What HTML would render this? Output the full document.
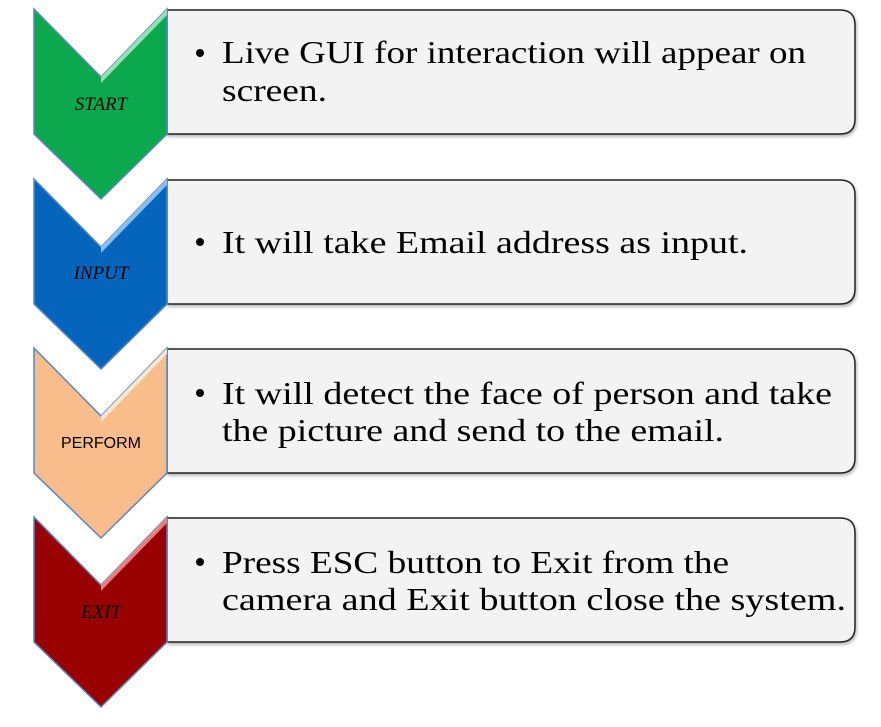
<!DOCTYPE html>
<html><head><style>
html,body{margin:0;padding:0;background:#fff;width:881px;height:727px;overflow:hidden}
</style></head><body>
<svg width="881" height="727" viewBox="0 0 881 727" xmlns="http://www.w3.org/2000/svg">
<defs>
<filter id="sh" x="-5%" y="-5%" width="110%" height="120%"><feDropShadow dx="1" dy="2" stdDeviation="1.5" flood-color="#000" flood-opacity="0.3"/></filter>
</defs>
<g font-family="'Liberation Serif', serif" font-size="32" fill="#000">
<!-- Row 1 -->
<g transform="translate(0,9)">
<path d="M167,1 H840 Q855,1 855,16 V110 Q855,125 840,125 H167 Z" fill="#f3f3f3" stroke="#222" stroke-width="1.5" filter="url(#sh)"/>
<path d="M34,0 L101,68 L167,0 L167,125 L101,190 L34,125 Z" fill="#0ba84e" stroke="#5a86c4" stroke-width="1.5"/>
<path d="M101,68 L167,0 L167,6 L101,74 Z" fill="#b8f0c8" opacity="0.8"/>
<text x="101" y="101" font-size="19" font-style="italic" text-anchor="middle">START</text>
<circle cx="200" cy="44" r="4"/>
<text x="222" y="54" textLength="584" lengthAdjust="spacingAndGlyphs">Live GUI for interaction will appear on</text>
<text x="222" y="92" textLength="105" lengthAdjust="spacingAndGlyphs">screen.</text>
</g>
<!-- Row 2 -->
<g transform="translate(0,179)">
<path d="M167,1 H840 Q855,1 855,16 V110 Q855,125 840,125 H167 Z" fill="#f3f3f3" stroke="#222" stroke-width="1.5" filter="url(#sh)"/>
<path d="M34,0 L101,68 L167,0 L167,125 L101,190 L34,125 Z" fill="#0565bd" stroke="#5a86c4" stroke-width="1.5"/>
<path d="M101,68 L167,0 L167,6 L101,74 Z" fill="#a8d4ff" opacity="0.8"/>
<text x="101" y="100" font-size="19" font-style="italic" text-anchor="middle">INPUT</text>
<circle cx="200" cy="63" r="4"/>
<text x="222" y="74" textLength="526" lengthAdjust="spacingAndGlyphs">It will take Email address as input.</text>
</g>
<!-- Row 3 -->
<g transform="translate(0,348)">
<path d="M167,1 H840 Q855,1 855,16 V110 Q855,125 840,125 H167 Z" fill="#f3f3f3" stroke="#222" stroke-width="1.5" filter="url(#sh)"/>
<path d="M34,0 L101,68 L167,0 L167,125 L101,190 L34,125 Z" fill="#f9bc8b" stroke="#5a86c4" stroke-width="1.5"/>
<path d="M101,68 L167,0 L167,6 L101,74 Z" fill="#fff0e0" opacity="0.8"/>
<text x="101" y="100" font-size="16" font-family="'Liberation Sans', sans-serif" text-anchor="middle">PERFORM</text>
<circle cx="200" cy="45" r="4"/>
<text x="222" y="56" textLength="610" lengthAdjust="spacingAndGlyphs">It will detect the face of person and take</text>
<text x="222" y="93" textLength="502" lengthAdjust="spacingAndGlyphs">the picture and send to the email.</text>
</g>
<!-- Row 4 -->
<g transform="translate(0,517)">
<path d="M167,1 H840 Q855,1 855,16 V110 Q855,125 840,125 H167 Z" fill="#f3f3f3" stroke="#222" stroke-width="1.5" filter="url(#sh)"/>
<path d="M34,0 L101,68 L167,0 L167,125 L101,190 L34,125 Z" fill="#990000" stroke="#5a86c4" stroke-width="1.5"/>
<path d="M101,68 L167,0 L167,6 L101,74 Z" fill="#ff9a9a" opacity="0.8"/>
<text x="101" y="101" font-size="19" font-style="italic" text-anchor="middle">EXIT</text>
<circle cx="200" cy="45" r="4"/>
<text x="222" y="56" textLength="507" lengthAdjust="spacingAndGlyphs">Press ESC button to Exit from the</text>
<text x="222" y="93" textLength="624" lengthAdjust="spacingAndGlyphs">camera and Exit button close the system.</text>
</g>
</g>
</svg>
</body></html>
